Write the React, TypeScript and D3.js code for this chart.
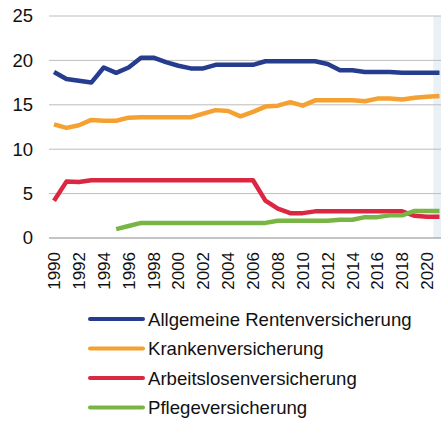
import React from 'react';
import * as d3 from 'd3';

const years = d3.range(1990, 2022);

// contribution rates in %
const rente = [18.7, 17.9, 17.7, 17.5, 19.2, 18.6, 19.2, 20.3, 20.3, 19.8, 19.4, 19.1, 19.1, 19.5, 19.5, 19.5,
  19.5, 19.9, 19.9, 19.9, 19.9, 19.9, 19.6, 18.9, 18.9, 18.7, 18.7, 18.7, 18.6, 18.6, 18.6, 18.6];
const kranken = [12.8, 12.4, 12.7, 13.3, 13.2, 13.2, 13.55, 13.6, 13.6, 13.6, 13.6, 13.6, 14.0, 14.4, 14.3, 13.7,
  14.2, 14.8, 14.9, 15.3, 14.9, 15.5, 15.5, 15.5, 15.5, 15.4, 15.7, 15.7, 15.6, 15.8, 15.9, 16.0];
const arbeitslos = [4.2, 6.35, 6.3, 6.5, 6.5, 6.5, 6.5, 6.5, 6.5, 6.5, 6.5, 6.5, 6.5, 6.5, 6.5, 6.5,
  6.5, 4.2, 3.3, 2.8, 2.8, 3.0, 3.0, 3.0, 3.0, 3.0, 3.0, 3.0, 3.0, 2.5, 2.4, 2.4];
const pflege = [null, null, null, null, null, 1.0, 1.35, 1.7, 1.7, 1.7, 1.7, 1.7, 1.7, 1.7, 1.7, 1.7,
  1.7, 1.7, 1.95, 1.95, 1.95, 1.95, 1.95, 2.05, 2.05, 2.35, 2.35, 2.55, 2.55, 3.05, 3.05, 3.05];

const seriesNames = ['Allgemeine Rentenversicherung', 'Krankenversicherung', 'Arbeitslosenversicherung', 'Pflegeversicherung'];
const seriesColors = ['#263d8f', '#f5a132', '#dc2742', '#78b544'];
const seriesValues = [rente, kranken, arbeitslos, pflege];

const yTicks = [0, 5, 10, 15, 20, 25];
const xTicks = d3.range(1990, 2021, 2);
const highlightYear = 2021;

const W = 441;
const H = 421;
const font = '"Liberation Sans", Arial, sans-serif';

export default function App() {
  const x = d3.scaleLinear().domain([1990, 2021]).range([54, 439.5]);
  const y = d3.scaleLinear().domain([0, 25]).range([238, 16]);
  const step = x(1991) - x(1990);

  const line = d3.line<number | null>()
    .defined((d) => d != null)
    .x((_, i) => x(years[i]))
    .y((d) => y(d as number));

  return (
    <svg width={W} height={H} style={{ position: 'absolute', left: 0, top: 0 }} fontFamily={font}>
      <rect x={x(highlightYear) - step / 2} y={y(25)} width={step} height={y(0) - y(25)} fill="#e9f1f7" />
      {yTicks.map((t) => (
        <g key={t}>
          <line x1={49} x2={W} y1={y(t)} y2={y(t)} stroke={t === 0 ? '#8a8a8a' : '#bdbdbd'} strokeWidth={1} />
          <text x={33} y={y(t)} dy="0.35em" textAnchor="end" fontSize={18.5} fill="#111">{t}</text>
        </g>
      ))}
      {xTicks.map((t) => (
        <text key={t} transform={`translate(${x(t)},252) rotate(-90)`} textAnchor="end" dy="0.36em" fontSize={17} fill="#111">{t}</text>
      ))}
      {seriesValues.map((vals, i) => (
        <path key={i} d={line(vals) || ''} fill="none" stroke={seriesColors[i]} strokeWidth={4.5} strokeLinejoin="round" />
      ))}
      {seriesNames.map((name, i) => {
        const ly = 319 + i * 29.5;
        return (
          <g key={name}>
            <line x1={90} x2={143} y1={ly} y2={ly} stroke={seriesColors[i]} strokeWidth={4} strokeLinecap="round" />
            <text x={148} y={ly} dy="0.35em" fontSize={18.6} fill="#111">{name}</text>
          </g>
        );
      })}
    </svg>
  );
}
